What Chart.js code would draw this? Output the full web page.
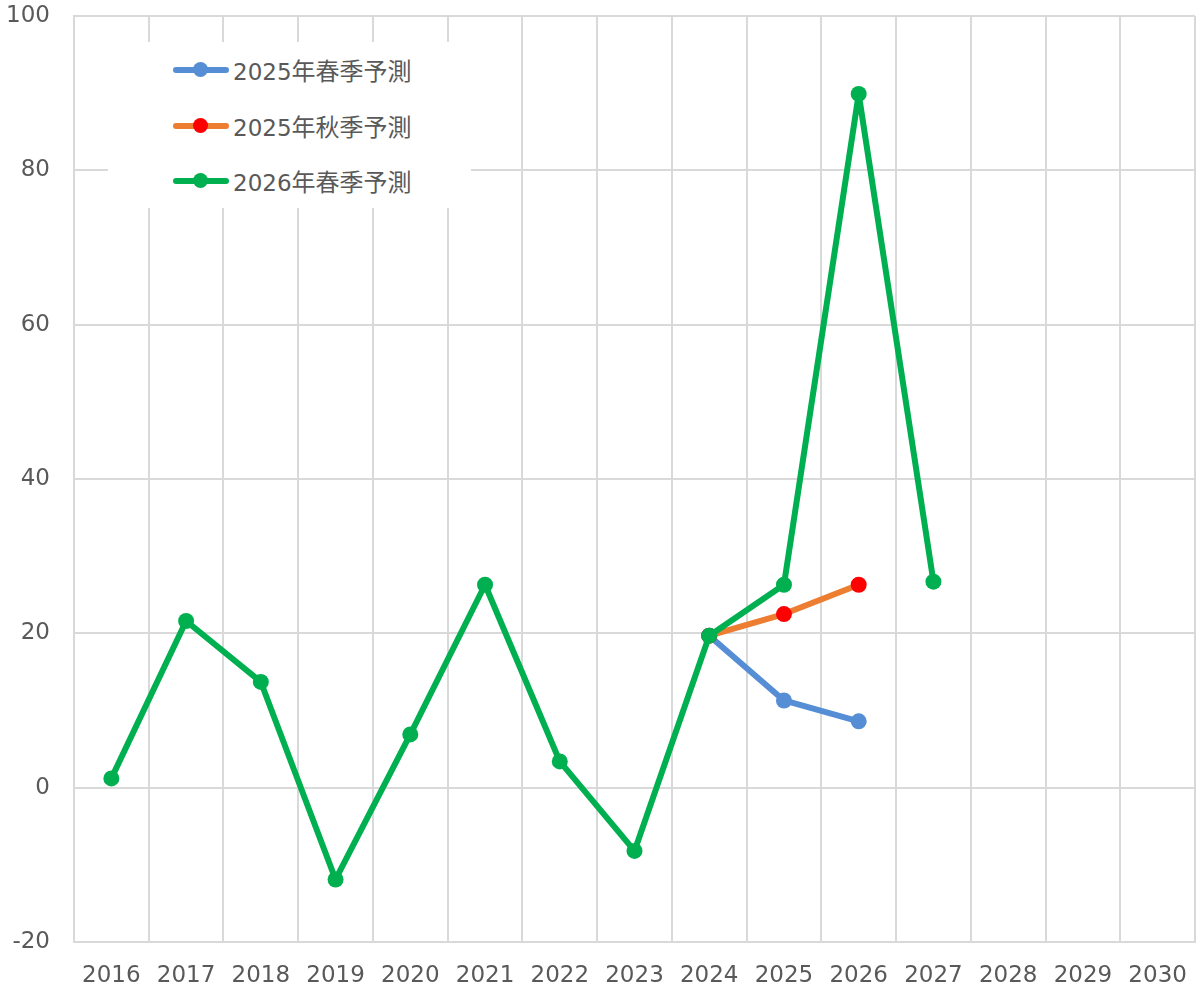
<!DOCTYPE html>
<html lang="ja">
<head>
<meta charset="utf-8">
<script src="https://cdn.jsdelivr.net/npm/chart.js@4"></script>
<style>
  html, body { margin: 0; padding: 0; background: #fff; }
  #wrap { position: relative; width: 1204px; height: 994px; }
  #legend {
    position: absolute; left: 108px; top: 42px; width: 363px; height: 166px;
    background: #fff;
  }
  .item { position: absolute; left: 0; height: 30px; width: 363px; }
  .sym { position: absolute; left: 65px; top: 12px; width: 56px; height: 6px; border-radius: 3px; }
  .dot { position: absolute; left: 85px; top: 7px; width: 15px; height: 15px; border-radius: 50%; }
  .lbl {
    position: absolute; left: 125px; top: 0; line-height: 30px; white-space: nowrap;
    color: #595959; font-size: 23px; font-family: "DejaVu Sans", sans-serif;
  }
  .lbl .cjk { font-family: "Noto Sans CJK JP", sans-serif; font-size: 24px; }
</style>
</head>
<body>
<div id="wrap">
  <canvas id="chart"></canvas>
  <div id="legend"></div>
</div>
<script>
// ─── Data ───────────────────────────────────────────────────
const years = ['2016', '2017', '2018', '2019', '2020', '2021', '2022', '2023',
  '2024', '2025', '2026', '2027', '2028', '2029', '2030'];

const spring2025 = [null, null, null, null, null, null, null, null,
  19.7, 11.3, 8.6, null, null, null, null];
const autumn2025 = [null, null, null, null, null, null, null, null,
  19.7, 22.5, 26.3, null, null, null, null];
const spring2026 = [1.2, 21.6, 13.7, -11.9, 6.9, 26.3, 3.4, -8.2,
  19.7, 26.3, 89.9, 26.7, null, null, null];

const yTicks = [-20, 0, 20, 40, 60, 80, 100];

const seriesNames = ['2025年春季予測', '2025年秋季予測', '2026年春季予測'];

// ─── Chart ──────────────────────────────────────────────────
const GRID = '#D9D9D9';
const TEXT = '#595959';
const FONT = "'DejaVu Sans', 'Noto Sans CJK JP', sans-serif";

const styles = [
  { line: '#558ED5', point: '#558ED5' },
  { line: '#ED7D31', point: '#FF0000' },
  { line: '#00B050', point: '#00B050' },
];
const seriesData = [spring2025, autumn2025, spring2026];

const datasets = seriesData.map((data, i) => ({
  label: seriesNames[i],
  data,
  borderColor: styles[i].line,
  backgroundColor: styles[i].point,
  pointBackgroundColor: styles[i].point,
  pointBorderWidth: 0,
  pointRadius: 8,
  pointHoverRadius: 8,
  borderWidth: 6,
  borderJoinStyle: 'round',
  tension: 0,
  spanGaps: false,
  order: 3 - i, // green drawn on top
}));

new Chart(document.getElementById('chart'), {
  type: 'line',
  data: { labels: years, datasets },
  options: {
    responsive: true,
    maintainAspectRatio: false,
    animation: false,
    layout: { padding: { top: 16, right: 9, left: 0, bottom: 0 } },
    plugins: {
      legend: { display: false },
      tooltip: { enabled: false },
    },
    scales: {
      x: {
        offset: true,
        grid: { offset: true, color: GRID, lineWidth: 2, drawTicks: false },
        border: { color: GRID, width: 2 },
        ticks: { color: TEXT, font: { size: 23, family: FONT }, padding: 20, maxRotation: 0, autoSkip: false },
        afterFit: s => { s.height = 52; s.paddingLeft = 0; s.paddingRight = 0; },
      },
      y: {
        min: yTicks[0],
        max: yTicks[yTicks.length - 1],
        afterBuildTicks: s => { s.ticks = yTicks.map(v => ({ value: v })); },
        grid: { color: GRID, lineWidth: 2, drawTicks: false },
        border: { color: GRID, width: 2 },
        ticks: { color: TEXT, font: { size: 23, family: FONT }, padding: 24 },
        afterFit: s => { s.width = 74; s.paddingTop = 0; s.paddingBottom = 0; },
      },
    },
  },
});

// ─── Legend (inside the plot, top left) ─────────────────────
const legend = document.getElementById('legend');
seriesNames.forEach((name, i) => {
  const item = document.createElement('div');
  item.className = 'item';
  item.style.top = (13 + i * 55.5) + 'px';
  const m = name.match(/^(\d+)(.*)$/);
  item.innerHTML =
    `<span class="sym" style="background:${styles[i].line}"></span>` +
    `<span class="dot" style="background:${styles[i].point}"></span>` +
    `<span class="lbl">${m[1]}<span class="cjk">${m[2]}</span></span>`;
  legend.appendChild(item);
});
</script>
</body>
</html>
